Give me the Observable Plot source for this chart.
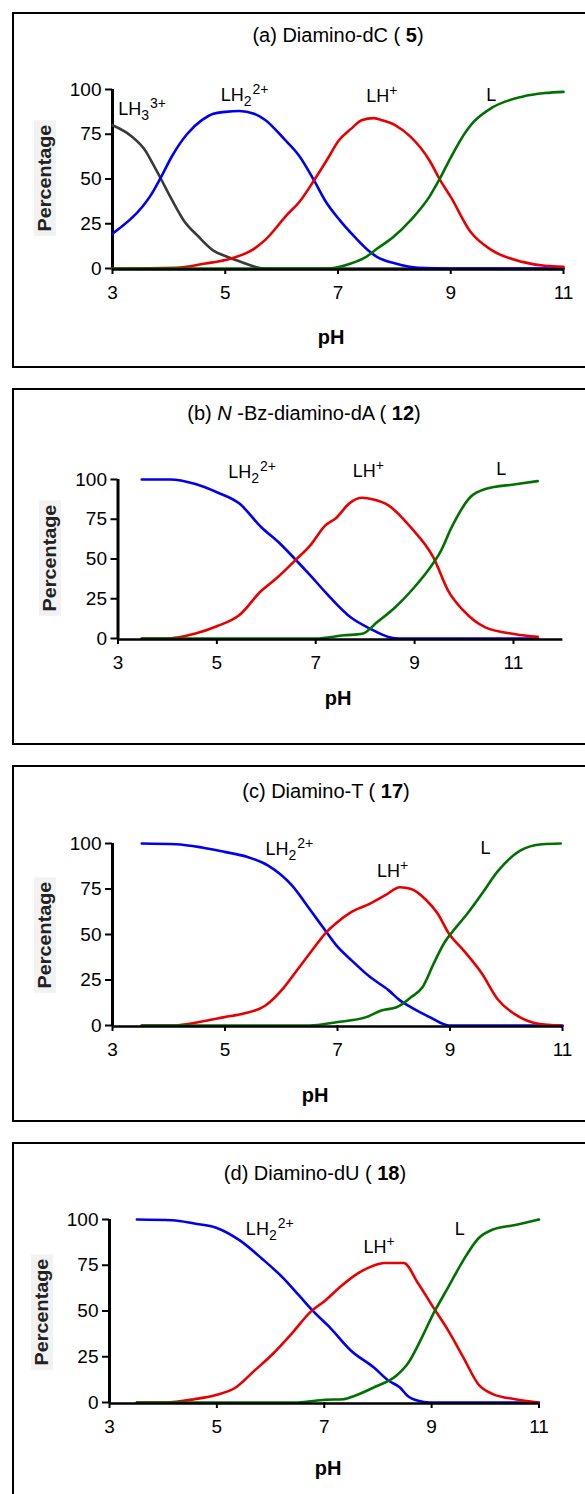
<!DOCTYPE html>
<html><head><meta charset="utf-8">
<script src="https://cdn.jsdelivr.net/npm/d3@7"></script>
<script src="https://cdn.jsdelivr.net/npm/@observablehq/plot@0.6"></script>
<style>
body{margin:0;background:#fff;}
#page{position:relative;width:585px;height:1494px;overflow:hidden;font-family:"Liberation Sans",Arial,sans-serif;color:#000;}
.box{position:absolute;left:12px;width:620px;border:2px solid #000;box-sizing:border-box;}
.title{position:absolute;white-space:nowrap;font-size:20px;transform:translate(-50%,-50%);}
.xlab{position:absolute;font-weight:bold;font-size:20px;transform:translate(-50%,-50%);}
.ylab{position:absolute;font-weight:bold;font-size:18px;color:#222;background:#f2f2f2;padding:0 4px;line-height:22px;white-space:nowrap;transform:translate(-50%,-50%) rotate(-90deg) scaleX(1.1);}
.plot{position:absolute;left:0;}
</style></head><body><div id="page"></div>
<script>
// ---------- data ----------
const species = ["LH3", "LH2", "LH", "L"];
const speciesColors = ["#3a3a3a", "#0000ee", "#e80000", "#007000"];
const xTicks = [3, 5, 7, 9, 11];
const yTicks = [0, 25, 50, 75, 100];

// (a) Diamino-dC (5)
const a_LH3_pH = [3.0, 3.33, 3.6, 3.69, 3.86, 4.06, 4.26, 4.52, 4.79, 5.0, 5.25, 5.7, 7, 9, 11];
const a_LH3 = [80, 74, 65, 60, 50, 38, 27, 18, 10, 7, 4, 0, 0, 0, 0];
const a_LH2_pH = [3.0, 3.53, 3.66, 3.86, 4.06, 4.32, 4.59, 4.79, 5.0, 5.25, 5.51, 5.71, 6.04, 6.31, 6.57, 6.77, 7.03, 7.3, 7.56, 7.69, 8.02, 8.42, 9, 10, 11];
const a_LH2 = [19.5, 34.5, 40, 51, 63, 75, 83, 86.5, 87.5, 88, 86.5, 83, 72.5, 63, 49.5, 38, 27, 17.5, 9.5, 6.5, 2.8, 0.4, 0, 0, 0];
const a_LH_pH = [3, 4.12, 4.65, 5.0, 5.51, 5.71, 6.11, 6.31, 6.57, 6.83, 7.0, 7.23, 7.43, 7.63, 7.76, 8.02, 8.29, 8.62, 8.82, 9.0, 9.35, 9.74, 10.27, 10.67, 11];
const a_LH = [0, 0.4, 2.8, 4.7, 11, 16, 30.5, 37, 49, 62, 71, 78, 83, 84, 83, 80, 73.5, 60.5, 49, 40, 20.5, 10, 3.7, 1.5, 1];
const a_L_pH = [3, 6.8, 7.23, 7.5, 7.69, 7.96, 8.29, 8.62, 8.82, 9.0, 9.28, 9.41, 9.74, 10.27, 10.67, 11];
const a_L = [0, 0, 2.8, 6.5, 11, 17, 27, 40, 51, 62, 77, 82, 90, 96, 98, 98.7];
const a_labelText = ["LH|3|3+", "LH|2|2+", "LH||+", "L||"];
const a_labelPH = [3.1, 4.92, 7.5, 9.63];
const a_labelY = [89, 96.8, 96.5, 97];

// (b) N-Bz-diamino-dA (12)
const b_LH2_pH = [3.48, 4.06, 4.55, 5.0, 5.45, 5.9, 6.28, 6.58, 6.89, 7.19, 7.72, 8.09, 8.47, 8.7, 10, 11.5];
const b_LH2 = [100, 100, 97.3, 92, 85, 70, 59.6, 50, 39.7, 29.3, 13, 6.3, 1, 0, 0, 0];
const b_LH_pH = [3.48, 4.02, 4.55, 5.0, 5.45, 5.9, 6.2, 6.58, 6.89, 7.19, 7.42, 7.68, 7.94, 8.17, 8.47, 8.92, 9.38, 9.68, 9.98, 10.43, 11.04, 11.49];
const b_LH = [0, 0, 3, 7.7, 14.6, 30, 37.7, 49, 58.6, 71, 76, 85, 88.5, 87.4, 83.7, 70, 51, 30, 17.8, 7, 2.7, 1];
const b_L_pH = [3.48, 7.0, 7.57, 7.94, 8.25, 8.62, 9.0, 9.3, 9.53, 9.75, 10.13, 10.43, 11.04, 11.49];
const b_L = [0, 0, 2, 3, 10.5, 20, 32.4, 44, 55, 70, 89, 94, 97, 99];
const b_labelText = ["LH|2|2+", "LH||+", "L||"];
const b_labelPH = [5.23, 7.75, 10.65];
const b_labelY = [104.8, 105, 106.7];

// (c) Diamino-T (17)
const c_LH2_pH = [3.52, 4.13, 4.59, 4.99, 5.39, 5.76, 6.19, 6.52, 6.78, 6.98, 7.25, 7.58, 7.91, 8.11, 8.31, 8.64, 8.98, 10, 11];
const c_LH2 = [100, 99.6, 97.8, 95.4, 92.7, 88, 77, 63.3, 52.3, 44, 35.8, 26.6, 19.3, 13.8, 10, 4.6, 0, 0, 0];
const c_LH_pH = [3.52, 4.06, 4.59, 4.99, 5.32, 5.72, 6.05, 6.32, 6.59, 6.78, 6.98, 7.25, 7.58, 7.85, 8.11, 8.31, 8.58, 8.78, 8.98, 9.24, 9.57, 9.84, 10.24, 10.57, 10.97];
const c_LH = [0, 0, 2.2, 4.6, 6.4, 11, 21, 32, 43, 50.5, 56.3, 62.4, 67, 71.6, 76, 75, 68.8, 61.5, 50.5, 41.3, 28.4, 14.7, 4.6, 1, 0];
const c_L_pH = [3.52, 6.5, 6.98, 7.51, 7.78, 8.05, 8.31, 8.51, 8.71, 8.91, 9.04, 9.31, 9.57, 9.84, 10.24, 10.64, 10.97];
const c_L = [0, 0, 1.8, 4.6, 8.3, 10, 15.6, 21, 34, 46, 51.4, 61.5, 72.5, 84.4, 96, 99.6, 100];
const c_labelText = ["LH|2|2+", "LH||+", "L||"];
const c_labelPH = [5.72, 7.70, 9.54];
const c_labelY = [96.7, 84.8, 97.2];

// (d) Diamino-dU (18)
const d_LH2_pH = [3.51, 4.17, 4.58, 5.0, 5.42, 5.84, 6.25, 6.53, 6.81, 7.09, 7.5, 7.92, 8.2, 8.41, 8.55, 8.75, 8.96, 10, 11];
const d_LH2 = [100, 99.6, 97.8, 95.4, 88.7, 78.6, 67.6, 58.5, 49.4, 41.5, 28.3, 19.2, 11.9, 8.2, 3.7, 0.9, 0, 0, 0];
const d_LH_pH = [3.51, 4.03, 4.58, 5.0, 5.35, 5.7, 6.04, 6.39, 6.74, 7.02, 7.29, 7.57, 7.85, 8.13, 8.48, 8.75, 9.03, 9.31, 9.59, 9.87, 10.14, 10.56, 10.98];
const d_LH = [0, 0, 1.8, 4.2, 8.2, 17.4, 26.5, 37.5, 49.4, 55.8, 63, 69.5, 74, 76.2, 76.2, 65, 52, 39.3, 24.7, 10, 4.6, 1.8, 0];
const d_L_pH = [3.51, 6.5, 7.02, 7.36, 7.57, 7.92, 8.34, 8.55, 8.82, 9.03, 9.31, 9.59, 9.87, 10.14, 10.56, 11];
const d_L = [0, 0, 1.5, 1.8, 3.7, 8.2, 14.6, 21, 35.6, 48.4, 63, 77.7, 89.6, 94.5, 97, 100];
const d_labelText = ["LH|2|2+", "LH||+", "L||"];
const d_labelPH = [5.54, 7.73, 9.43];
const d_labelY = [94.7, 85, 94.7];

// ---------- layout ----------
const panels = [
  {title: "(a) Diamino-dC ( <b>5</b>)", titleX: 338, titleY: 35, top: 12, bottom: 368, xDomain: [3, 11],
   mL: 112, mR: 22, y100: 89, y0: 268, pHX: 331, pHY: 337, pctX: 45, pctY: 178,
   series: [["LH3", a_LH3_pH, a_LH3], ["LH2", a_LH2_pH, a_LH2], ["LH", a_LH_pH, a_LH], ["L", a_L_pH, a_L]],
   labels: [a_labelText, a_labelPH, a_labelY]},
  {title: "(b) <i>N</i> -Bz-diamino-dA ( <b>12</b>)", titleX: 304, titleY: 413, top: 388, bottom: 745, xDomain: [3, 12],
   mL: 117.5, mR: 22.6, y100: 479, y0: 638, pHX: 338, pHY: 698, pctX: 50, pctY: 558,
   series: [["LH2", b_LH2_pH, b_LH2], ["LH", b_LH_pH, b_LH], ["L", b_L_pH, b_L]],
   labels: [b_labelText, b_labelPH, b_labelY]},
  {title: "(c) Diamino-T ( <b>17</b>)", titleX: 326, titleY: 791, top: 765, bottom: 1122, xDomain: [3, 11],
   mL: 112, mR: 23, y100: 843, y0: 1025, pHX: 315, pHY: 1095, pctX: 45, pctY: 935,
   series: [["LH2", c_LH2_pH, c_LH2], ["LH", c_LH_pH, c_LH], ["L", c_L_pH, c_L]],
   labels: [c_labelText, c_labelPH, c_labelY]},
  {title: "(d) Diamino-dU ( <b>18</b>)", titleX: 315, titleY: 1173, top: 1142, bottom: 1510, xDomain: [3, 11],
   mL: 109, mR: 46.5, y100: 1219, y0: 1402, pHX: 328, pHY: 1468, pctX: 42, pctY: 1312,
   series: [["LH2", d_LH2_pH, d_LH2], ["LH", d_LH_pH, d_LH], ["L", d_L_pH, d_L]],
   labels: [d_labelText, d_labelPH, d_labelY]}
];

const page = document.getElementById("page");
const font = '"Liberation Sans", Arial, sans-serif';

for (const p of panels) {
  const box = document.createElement("div");
  box.className = "box";
  box.style.top = p.top + "px";
  box.style.height = (p.bottom - p.top) + "px";
  page.appendChild(box);

  const rows = [];
  for (const [name, xs, ys] of p.series) xs.forEach((x, i) => rows.push({pH: x, v: ys[i], sp: name}));
  const [lt, lx, ly] = p.labels;
  const labelRows = lt.map((t, i) => ({t, x: lx[i], y: ly[i]}));
  const height = p.bottom - p.top;

  const svg = Plot.plot({
    width: 585, height,
    marginLeft: p.mL, marginRight: p.mR,
    marginTop: p.y100 - p.top, marginBottom: p.bottom - p.y0,
    x: {domain: p.xDomain, axis: null},
    y: {domain: [0, 100], axis: null},
    color: {domain: species, range: speciesColors},
    style: {fontFamily: font, fontSize: "18px", background: "transparent", overflow: "visible", color: "#000"},
    marks: [
      Plot.axisX({ticks: xTicks, tickSize: 6, tickPadding: 11, strokeWidth: 2, fontSize: 19, tickFormat: d => String(d)}),
      Plot.axisY({ticks: yTicks, tickSize: 7, tickPadding: 4, strokeWidth: 2, fontSize: 19, tickFormat: d => String(d)}),
      Plot.ruleX([p.xDomain[0]], {y1: 0, y2: 100, stroke: "#000", strokeWidth: 3}),
      Plot.line(rows, {x: "pH", y: "v", z: "sp", stroke: "sp", strokeWidth: 2.6, curve: "monotone-x"}),
      Plot.ruleY([0], {x1: p.xDomain[0], x2: p.xDomain[1], stroke: "#000", strokeWidth: 2.5, dy: 1}),
      Plot.text(labelRows, {x: "x", y: "y", text: "t", textAnchor: "start", fill: "#000", fontSize: 18})
    ]
  });
  // sub/superscripts on species labels
  d3.select(svg).selectAll("text").filter(function () { return this.textContent.includes("|"); }).each(function () {
    const [base, sub, sup] = this.textContent.split("|");
    const t = d3.select(this);
    t.text("");
    t.append("tspan").text(base);
    if (sub) t.append("tspan").attr("font-size", 14).attr("dy", 5).text(sub);
    if (sup) t.append("tspan").attr("font-size", 14).attr("dy", sub ? -12 : -7).attr("dx", sub ? 1 : 0).text(sup);
  });
  svg.classList.add("plot");
  svg.style.top = p.top + "px";
  page.appendChild(svg);

  const title = document.createElement("div");
  title.className = "title";
  title.innerHTML = p.title;
  title.style.left = p.titleX + "px";
  title.style.top = p.titleY + "px";
  page.appendChild(title);

  const xl = document.createElement("div");
  xl.className = "xlab";
  xl.textContent = "pH";
  xl.style.left = p.pHX + "px";
  xl.style.top = p.pHY + "px";
  page.appendChild(xl);

  const yl = document.createElement("div");
  yl.className = "ylab";
  yl.textContent = "Percentage";
  yl.style.left = p.pctX + "px";
  yl.style.top = p.pctY + "px";
  page.appendChild(yl);
}
</script></body></html>
